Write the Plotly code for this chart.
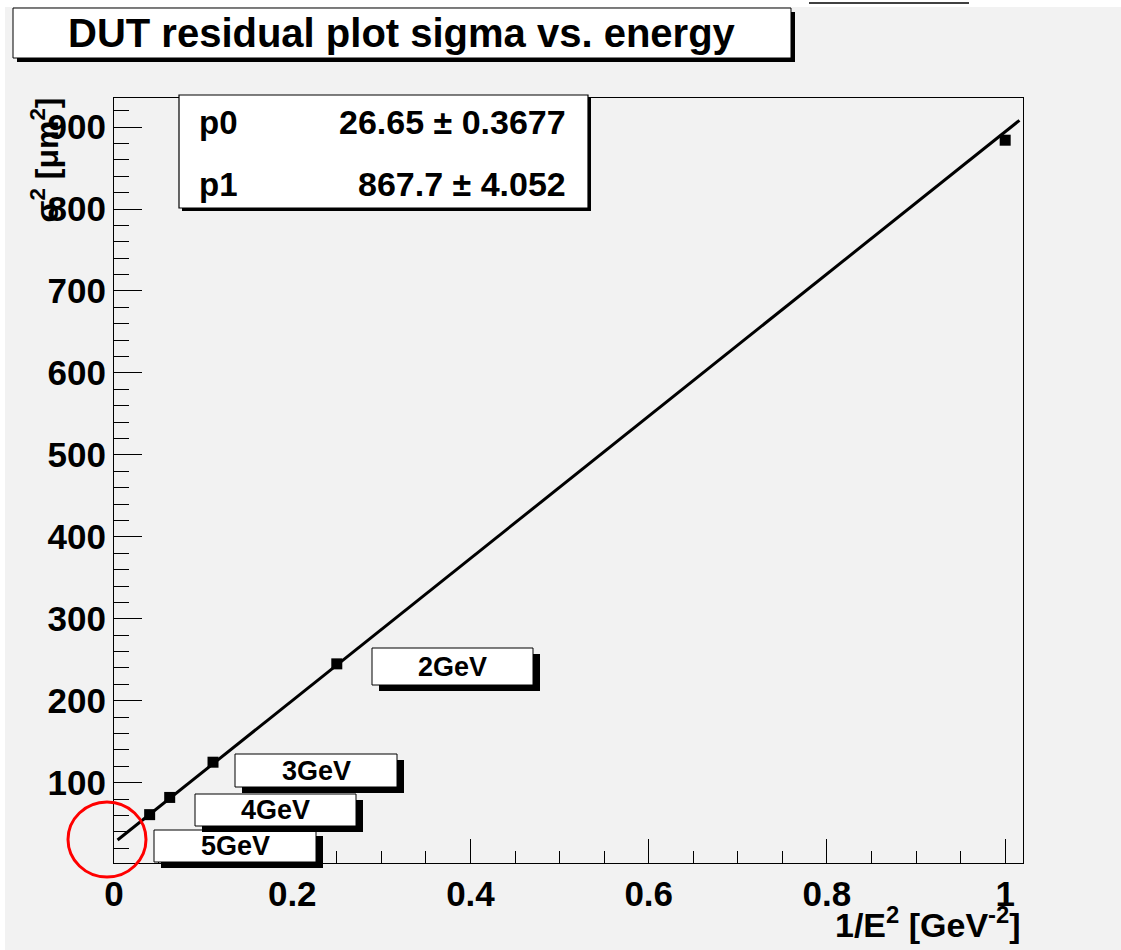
import plotly.graph_objects as go

W, H = 1121, 950

# ---- data ----
inv_e2 = [0.04, 0.0625, 0.1111, 0.25, 1.0]          # 1/E^2 [GeV^-2]
sigma2 = [61, 82, 125, 245, 884]                    # sigma^2 [um^2]
energy_labels = ["5GeV", "4GeV", "3GeV", "2GeV"]
fit_x = [0.004, 1.016]
fit_y = [30.1, 908.2]
fit_params = ["p0", "p1"]
fit_values = ["26.65 \u00b1 0.3677", "867.7 \u00b1 4.052"]
title_text = "DUT residual plot sigma vs. energy"
x_title = "1/E<sup>2</sup> [GeV<sup>-2</sup>]"
y_title = "\u03c3<sup>2</sup> [\u03bcm<sup>2</sup>]"


def px(x):
    return x / W


def py(y):
    return 1 - y / H


FONT = "Liberation Sans, Arial, Helvetica, sans-serif"
GRAY = "#f2f2f2"

fig = go.Figure()
fig.add_trace(go.Scatter(x=fit_x, y=fit_y, mode="lines",
                         line=dict(color="black", width=3), hoverinfo="skip"))
fig.add_trace(go.Scatter(x=inv_e2, y=sigma2, mode="markers",
                         marker=dict(symbol="square", size=11, color="black")))

shapes = []
annotations = []


def box(x0, y0, x1, y1, dx, dy, lw=1):
    shapes.append(dict(type="rect", xref="paper", yref="paper",
                       x0=px(x0 + dx), x1=px(x1 + dx), y0=py(y0 + dy), y1=py(y1 + dy),
                       fillcolor="black", line=dict(width=0), layer="above"))
    shapes.append(dict(type="rect", xref="paper", yref="paper",
                       x0=px(x0), x1=px(x1), y0=py(y0), y1=py(y1),
                       fillcolor="white", line=dict(color="black", width=lw), layer="above"))


# white strips outside the canvas
shapes.append(dict(type="rect", xref="paper", yref="paper", x0=0, x1=1, y0=py(7), y1=1,
                   fillcolor="white", line=dict(width=0), layer="below"))
shapes.append(dict(type="rect", xref="paper", yref="paper", x0=0, x1=px(5), y0=0, y1=1,
                   fillcolor="white", line=dict(width=0), layer="below"))
shapes.append(dict(type="line", xref="paper", yref="paper", x0=px(809), x1=px(969),
                   y0=py(3), y1=py(3), line=dict(color="black", width=1.5)))

# title box
box(13, 8, 791, 58, 4, 4)
annotations.append(dict(text=title_text, x=px(402), y=py(33), xref="paper", yref="paper",
                        showarrow=False, xanchor="center", yanchor="middle",
                        font=dict(family=FONT, size=40, color="black", weight="bold")))

# stats box
box(179, 95, 588, 208, 3, 3, lw=1.2)
for i, (p, v) in enumerate(zip(fit_params, fit_values)):
    yy = 122 + i * 62
    annotations.append(dict(text=p, x=px(197), y=py(yy), xref="paper", yref="paper",
                            showarrow=False, xanchor="left", yanchor="middle",
                            font=dict(family=FONT, size=33, color="black", weight="bold")))
    annotations.append(dict(text=v, x=px(568), y=py(yy), xref="paper", yref="paper",
                            showarrow=False, xanchor="right", yanchor="middle",
                            font=dict(family=FONT, size=34, color="black", weight="bold")))

# energy label boxes (pixel positions of the boxes)
label_boxes = {
    "2GeV": (372, 648, 533, 685),
    "3GeV": (235, 754, 397, 787),
    "4GeV": (195, 794, 356, 826),
    "5GeV": (154, 830, 316, 862),
}
for lab in energy_labels:
    x0, y0, x1, y1 = label_boxes[lab]
    box(x0, y0, x1, y1, 7, 6)
    annotations.append(dict(text=lab, x=px((x0 + x1) / 2), y=py((y0 + y1) / 2),
                            xref="paper", yref="paper", showarrow=False,
                            xanchor="center", yanchor="middle",
                            font=dict(family=FONT, size=27, color="black", weight="bold")))

# red circle
shapes.append(dict(type="circle", xref="paper", yref="paper",
                   x0=px(68), x1=px(146), y0=py(877), y1=py(802),
                   line=dict(color="red", width=3), layer="above"))

# axis titles
annotations.append(dict(text=x_title, x=px(1023), y=py(922), xref="paper", yref="paper",
                        showarrow=False, xanchor="right", yanchor="middle",
                        font=dict(family=FONT, size=34, color="black", weight="bold")))
annotations.append(dict(text=y_title, x=px(44), y=py(96), xref="paper", yref="paper",
                        showarrow=False, xanchor="center", yanchor="top", textangle=-90,
                        font=dict(family=FONT, size=32, color="black", weight="bold")))

fig.update_layout(
    width=W, height=H,
    margin=dict(l=0, r=0, t=0, b=0, autoexpand=False),
    paper_bgcolor=GRAY, plot_bgcolor=GRAY,
    showlegend=False,
    shapes=shapes, annotations=annotations,
    xaxis=dict(domain=[px(114), px(1023)], range=[0, 1.02],
               tick0=0, dtick=0.2, ticks="inside", ticklen=24, tickwidth=1, tickcolor="black",
               minor=dict(dtick=0.05, tick0=0, ticks="inside", ticklen=12, tickcolor="black", tickwidth=1),
               showgrid=False, zeroline=False, showline=True, mirror=True,
               linecolor="black", linewidth=1,
               tickfont=dict(family=FONT, size=35, color="black", weight="bold")),
    yaxis=dict(domain=[py(863), py(98)], range=[2, 935.5],
               tick0=0, dtick=100, ticks="inside", ticklen=28, tickwidth=1, tickcolor="black",
               minor=dict(dtick=20, tick0=0, ticks="inside", ticklen=15, tickcolor="black", tickwidth=1),
               showgrid=False, zeroline=False, showline=True, mirror=True,
               linecolor="black", linewidth=1,
               tickfont=dict(family=FONT, size=35, color="black", weight="bold")),
)

fig.write_html("out.html", config={"displayModeBar": False},
               post_script="document.body.style.margin='0';document.body.style.overflow='hidden';")
